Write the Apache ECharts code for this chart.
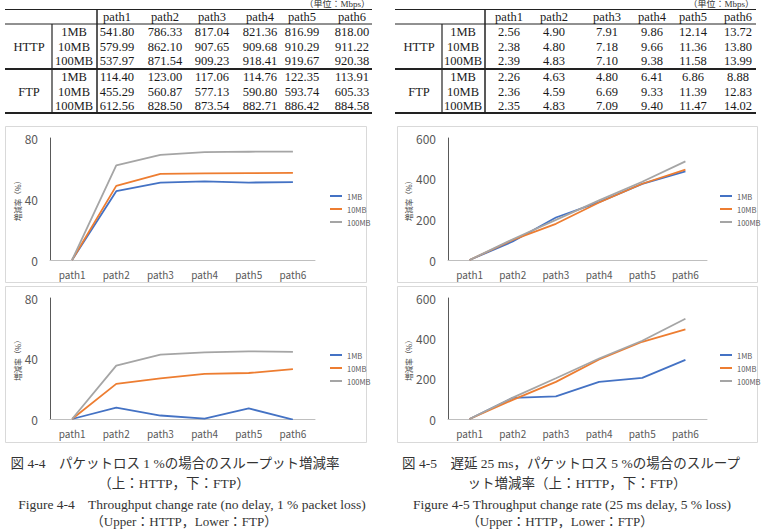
<!DOCTYPE html>
<html>
<head>
<meta charset="utf-8">
<script src="https://cdn.jsdelivr.net/npm/echarts@6/dist/echarts.min.js"></script>
<style>
  html, body { margin: 0; padding: 0; background: #fff; }
  #main { width: 764px; height: 530px; }
</style>
</head>
<body>
<div id="main"></div>
<script>
// 表の見出し
const pathNames = ['path1', 'path2', 'path3', 'path4', 'path5', 'path6'];
const protocols = ['HTTP', 'FTP'];
const fileSizes = ['1MB', '10MB', '100MB'];

// 表 (単位: Mbps) 左: パケットロス 1 %
const tableLoss1 = [
    [541.80, 786.33, 817.04, 821.36, 816.99, 818.00],
    [579.99, 862.10, 907.65, 909.68, 910.29, 911.22],
    [537.97, 871.54, 909.23, 918.41, 919.67, 920.38],
    [114.40, 123.00, 117.06, 114.76, 122.35, 113.91],
    [455.29, 560.87, 577.13, 590.80, 593.74, 605.33],
    [612.56, 828.50, 873.54, 882.71, 886.42, 884.58]
];
// 右: 遅延 25 ms, パケットロス 5 %
const tableDelayLoss5 = [
    [2.56, 4.90, 7.91, 9.86, 12.14, 13.72],
    [2.38, 4.80, 7.18, 9.66, 11.36, 13.80],
    [2.39, 4.83, 7.10, 9.38, 11.58, 13.99],
    [2.26, 4.63, 4.80, 6.41, 6.86, 8.88],
    [2.36, 4.59, 6.69, 9.33, 11.39, 12.83],
    [2.35, 4.83, 7.09, 9.40, 11.47, 14.02]
];

// 増減率 (%) 図 4-4
const fig44Http1 = [0, 45.1, 50.8, 51.6, 50.8, 51.0];
const fig44Http10 = [0, 48.6, 56.5, 56.8, 57.0, 57.1];
const fig44Http100 = [0, 62.0, 69.0, 70.7, 71.0, 71.1];
const fig44Ftp1 = [0, 7.5, 2.3, 0.3, 7.0, -0.4];
const fig44Ftp10 = [0, 23.2, 26.8, 29.8, 30.4, 33.0];
const fig44Ftp100 = [0, 35.3, 42.6, 44.1, 44.7, 44.4];

// 増減率 (%) 図 4-5
const fig45Http1 = [0, 91, 209, 285, 374, 436];
const fig45Http10 = [0, 99, 178, 283, 375, 444];
const fig45Http100 = [0, 102, 197, 293, 385, 485];
const fig45Ftp1 = [0, 105, 112, 184, 204, 293];
const fig45Ftp10 = [0, 95, 184, 295, 383, 444];
const fig45Ftp100 = [0, 106, 202, 300, 388, 497];

const lineColors = ['#4472C4', '#ED7D31', '#A5A5A5'];
const serifFont = '"Liberation Serif", "Times New Roman", "Noto Sans CJK JP", serif';
const sansFont = '"Noto Sans CJK JP", "Noto Sans", sans-serif';

function txt (text, x, y, size, align, color) {
    return {
        type: 'text',
        x: x,
        y: y,
        silent: true,
        style: {
            text: text,
            fontSize: size,
            fontFamily: serifFont,
            fill: color || '#1a1a1a',
            align: align || 'center',
            verticalAlign: 'middle',
            textAlign: align || 'center',
            textVerticalAlign: 'middle'
        }
    };
}

function hLine (x1, x2, y, w) {
    return { type: 'line', silent: true, shape: { x1: x1, y1: y, x2: x2, y2: y }, style: { stroke: '#222', lineWidth: w } };
}

function vLine (x, y1, y2, w) {
    return { type: 'line', silent: true, shape: { x1: x, y1: y1, x2: x, y2: y2 }, style: { stroke: '#222', lineWidth: w } };
}

// 表を描く
function buildTable (t, values) {
    const els = [];
    const rowY = [32, 46.5, 61, 77, 91.5, 106];
    els.push(txt('（単位：Mbps）', t.x1 - 2, 4, 9, 'right', '#333'));
    els.push(hLine(t.x0, t.x1, 9.5, 1));
    els.push(hLine(t.x0, t.x1, 24, 1));
    els.push(hLine(t.x0, t.x1, 69, 2));
    els.push(hLine(t.x0, t.x1, 113, 2));
    els.push(vLine(t.v1, 24, 113, 1.2));
    els.push(vLine(t.v2, 9.5, 113, 1.5));
    pathNames.forEach((p, i) => els.push(txt(p, t.cols[i], 16.5, 12.5)));
    protocols.forEach((p, i) => els.push(txt(p, t.groupX, rowY[i * 3 + 1], 12.5)));
    values.forEach((row, r) => {
        els.push(txt(fileSizes[r % 3], t.sizeX, rowY[r], 12.5));
        row.forEach((v, c) => els.push(txt(v.toFixed(2), t.cols[c], rowY[r], 12.5)));
    });
    return els;
}

const grids = [
    { left: 50, top: 138, width: 265, height: 122 },
    { left: 50, top: 298, width: 265, height: 121 },
    { left: 448, top: 138, width: 259, height: 122 },
    { left: 448, top: 298, width: 259, height: 121 }
];
const yMax = [80, 80, 600, 600];
const yStep = [40, 40, 200, 200];
const seriesData = [
    [fig44Http1, fig44Http10, fig44Http100],
    [fig44Ftp1, fig44Ftp10, fig44Ftp100],
    [fig45Http1, fig45Http10, fig45Http100],
    [fig45Ftp1, fig45Ftp10, fig45Ftp100]
];
const legendPos = [
    { left: 325, top: 187 },
    { left: 325, top: 346 },
    { left: 715, top: 187 },
    { left: 715, top: 346 }
];

const xAxes = grids.map((g, i) => ({
    type: 'category',
    gridIndex: i,
    data: pathNames,
    boundaryGap: true,
    axisLine: { lineStyle: { color: '#bfbfbf', width: 1 } },
    axisTick: { show: false },
    axisLabel: { color: '#595959', fontSize: 10, fontFamily: sansFont, margin: 9 }
}));

const yAxes = grids.map((g, i) => ({
    type: 'value',
    gridIndex: i,
    min: 0,
    max: yMax[i],
    interval: yStep[i],
    name: '増減率（%）',
    nameLocation: 'middle',
    nameRotate: 90,
    nameGap: i < 2 ? 27 : 30,
    nameTextStyle: { color: '#404040', fontSize: 7.5, fontFamily: sansFont },
    axisLine: { show: true, lineStyle: { color: '#595959', width: 1 } },
    axisTick: { show: false },
    splitLine: { show: false },
    axisLabel: { color: '#595959', fontSize: 12, fontFamily: sansFont, margin: 12 }
}));

const series = [];
seriesData.forEach((group, gi) => {
    group.forEach((data, si) => {
        series.push({
            name: fileSizes[si],
            type: 'line',
            xAxisIndex: gi,
            yAxisIndex: gi,
            data: data,
            symbol: 'none',
            silent: true,
            color: lineColors[si],
            lineStyle: { width: 1.8, color: lineColors[si] }
        });
    });
});

const legends = legendPos.map(p => ({
    orient: 'vertical',
    left: p.left,
    top: p.top,
    icon: 'rect',
    itemWidth: 12,
    itemHeight: 2,
    itemGap: 5,
    selectedMode: false,
    data: fileSizes,
    textStyle: { color: '#595959', fontSize: 7.5, fontFamily: sansFont, lineHeight: 8 }
}));

const panels = [
    [5.5, 126.5, 361, 156],
    [5.5, 286.5, 361, 156],
    [397.5, 126.5, 360, 156],
    [397.5, 286.5, 360, 156]
].map(r => ({
    type: 'rect',
    silent: true,
    z: -10,
    shape: { x: r[0], y: r[1], width: r[2], height: r[3] },
    style: { fill: '#fff', stroke: '#d9d9d9', lineWidth: 1 }
}));

const captions = [
    txt('図 4-4　パケットロス 1 %の場合のスループット増減率', 175, 463, 13.5, 'center', '#333'),
    txt('（上：HTTP，下：FTP）', 174, 483.5, 13.5, 'center', '#333'),
    txt('Figure 4-4    Throughput change rate (no delay, 1 % packet loss)', 192, 504, 13.5, 'center', '#333'),
    txt('（Upper：HTTP，Lower：FTP）', 184, 521.5, 13, 'center', '#333'),
    txt('図 4-5　遅延 25 ms，パケットロス 5 %の場合のスループ', 571, 463, 13.5, 'center', '#333'),
    txt('ット増減率（上：HTTP，下：FTP）', 577, 483.5, 13.5, 'center', '#333'),
    txt('Figure 4-5 Throughput change rate (25 ms delay, 5 % loss)', 572, 504, 13.5, 'center', '#333'),
    txt('（Upper：HTTP，Lower：FTP）', 560, 521.5, 13, 'center', '#333')
];

const leftTable = buildTable(
    { x0: 5, x1: 372, v1: 52, v2: 97, groupX: 29, sizeX: 74, cols: [117, 165, 212, 260, 302, 352] },
    tableLoss1
);
const rightTable = buildTable(
    { x0: 395, x1: 756, v1: 442, v2: 485, groupX: 419, sizeX: 463, cols: [509, 554, 607, 652, 693, 738] },
    tableDelayLoss5
);

const myChart = echarts.init(document.getElementById('main'), null, { renderer: 'svg' });
myChart.setOption({
    animation: false,
    backgroundColor: '#fff',
    grid: grids,
    xAxis: xAxes,
    yAxis: yAxes,
    legend: legends,
    series: series,
    graphic: { elements: panels.concat(leftTable, rightTable, captions) }
});
</script>
</body>
</html>
